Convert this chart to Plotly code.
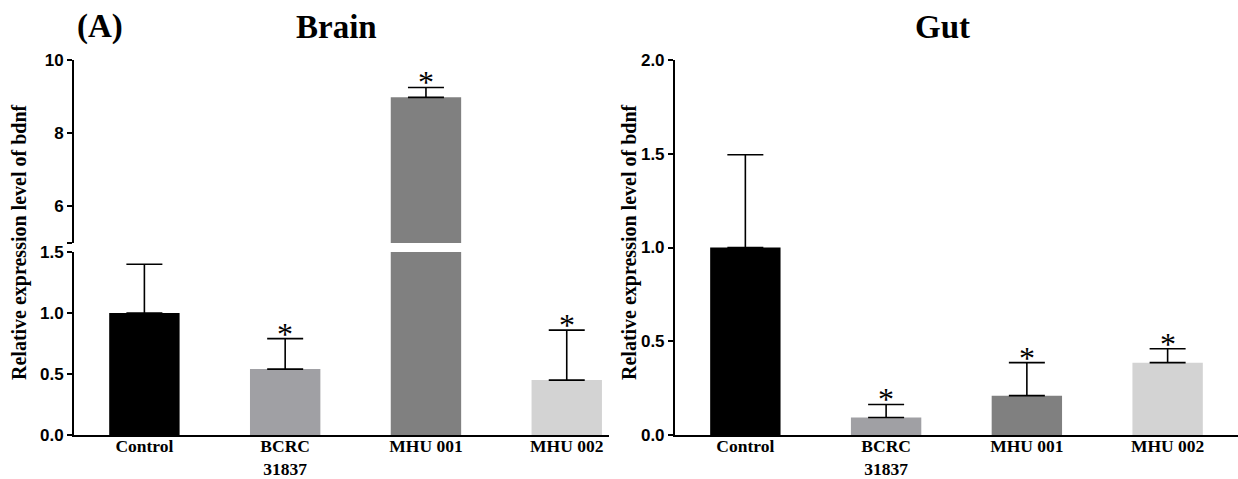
import plotly.graph_objects as go

categories = ["Control", "BCRC<br>31837", "MHU 001", "MHU 002"]
bar_colors = ["#000000", "#a0a0a4", "#808080", "#d3d3d3"]

brain_mean = [1.0, 0.54, 8.98, 0.45]
brain_err = [0.40, 0.25, 0.27, 0.41]
brain_sig = [False, True, True, True]

gut_mean = [1.0, 0.093, 0.21, 0.386]
gut_err = [0.495, 0.07, 0.176, 0.074]
gut_sig = [False, True, True, True]

brain_low_ticks = [0, 0.5, 1.0, 1.5]
brain_high_ticks = [5, 6, 8, 10]
brain_high_ticktext = ["", "6", "8", "10"]
gut_ticks = [0, 0.5, 1.0, 1.5, 2.0]

SERIF = "Liberation Serif"
SANS = "Liberation Sans"

fig = go.Figure()

err_style = dict(type="data", symmetric=False, arrayminus=[0] * 4,
                 color="black", thickness=1.6, width=18)

# Brain - lower and upper (broken axis)
for ya in ["y", "y2"]:
    fig.add_trace(go.Bar(
        x=categories, y=brain_mean, xaxis="x", yaxis=ya,
        marker=dict(color=bar_colors, line=dict(width=0)),
        width=0.5,
        error_y=dict(array=brain_err, **err_style),
        showlegend=False, hoverinfo="skip"))

# Gut
fig.add_trace(go.Bar(
    x=categories, y=gut_mean, xaxis="x2", yaxis="y3",
    marker=dict(color=bar_colors, line=dict(width=0)),
    width=0.5,
    error_y=dict(array=gut_err, **err_style),
    showlegend=False, hoverinfo="skip"))

star_font = dict(family=SERIF, size=32, color="black")

def add_stars(means, errs, sig, xa, ya_fn):
    for c, m, e, s in zip(categories, means, errs, sig):
        if s:
            fig.add_annotation(
                x=c, y=m + e, xref=xa, yref=ya_fn(m + e),
                text="*", showarrow=False, font=star_font,
                xanchor="center", yanchor="middle", yshift=5)

add_stars(brain_mean, brain_err, brain_sig, "x", lambda v: "y2" if v > 1.5 else "y")
add_stars(gut_mean, gut_err, gut_sig, "x2", lambda v: "y3")

tickfont_y = dict(family=SANS, size=17, color="black", weight="bold")
tickfont_x = dict(family=SERIF, size=17.5, color="black", weight="bold")

axis_common = dict(showline=True, linecolor="black", linewidth=2,
                   showgrid=False, zeroline=False, automargin=False)

fig.update_layout(
    width=1238, height=479,
    margin=dict(l=74, r=0, t=60, b=44, autoexpand=False),
    paper_bgcolor="white", plot_bgcolor="white",
    xaxis=dict(domain=[0, 0.4596], range=[-0.5, 3.3], anchor="y",
               ticks="", tickfont=tickfont_x, ticklabelstandoff=-6, **axis_common),
    yaxis=dict(domain=[0, 0.488], range=[0, 1.5], anchor="x",
               tickvals=brain_low_ticks, tickformat=".1f",
               ticks="outside", ticklen=5, tickwidth=2, tickcolor="black",
               tickfont=tickfont_y, **axis_common),
    yaxis2=dict(domain=[0.512, 1], range=[5, 10], anchor="x",
                tickvals=brain_high_ticks, ticktext=brain_high_ticktext,
                ticks="outside", ticklen=5, tickwidth=2, tickcolor="black",
                tickfont=tickfont_y, **axis_common),
    xaxis2=dict(domain=[0.5163, 1], range=[-0.5, 3.5], anchor="y3",
                ticks="", tickfont=tickfont_x, ticklabelstandoff=-6, **axis_common),
    yaxis3=dict(domain=[0, 1], range=[0, 2], anchor="x2",
                tickvals=gut_ticks, tickformat=".1f",
                ticks="outside", ticklen=5, tickwidth=2, tickcolor="black",
                tickfont=tickfont_y, **axis_common),
)

title_font = dict(family=SERIF, size=33, color="black", weight="bold")
ytitle_font = dict(family=SERIF, size=20, color="black", weight="bold")
ytitle = "Relative expression level of bdnf"

fig.add_annotation(text="(A)", x=(100 - 74) / 1164, xref="paper", y=1.088, yref="paper",
                   showarrow=False, font=title_font, xanchor="center", yanchor="middle")
fig.add_annotation(text="Brain", x=(336 - 74) / 1164, xref="paper", y=1.088, yref="paper",
                   showarrow=False, font=title_font, xanchor="center", yanchor="middle")
fig.add_annotation(text="Gut", x=(942 - 74) / 1164, xref="paper", y=1.088, yref="paper",
                   showarrow=False, font=title_font, xanchor="center", yanchor="middle")
fig.add_annotation(text=ytitle, x=(20 - 74) / 1164, xref="paper",
                   y=(435 - 242) / 375, yref="paper", textangle=-90,
                   showarrow=False, font=ytitle_font, xanchor="center", yanchor="middle")
fig.add_annotation(text=ytitle, x=(630 - 74) / 1164, xref="paper",
                   y=(435 - 242) / 375, yref="paper", textangle=-90,
                   showarrow=False, font=ytitle_font, xanchor="center", yanchor="middle")

fig.write_html("out.html", config={"displayModeBar": False},
               post_script="document.body.style.margin='0';document.body.style.overflow='hidden';")
